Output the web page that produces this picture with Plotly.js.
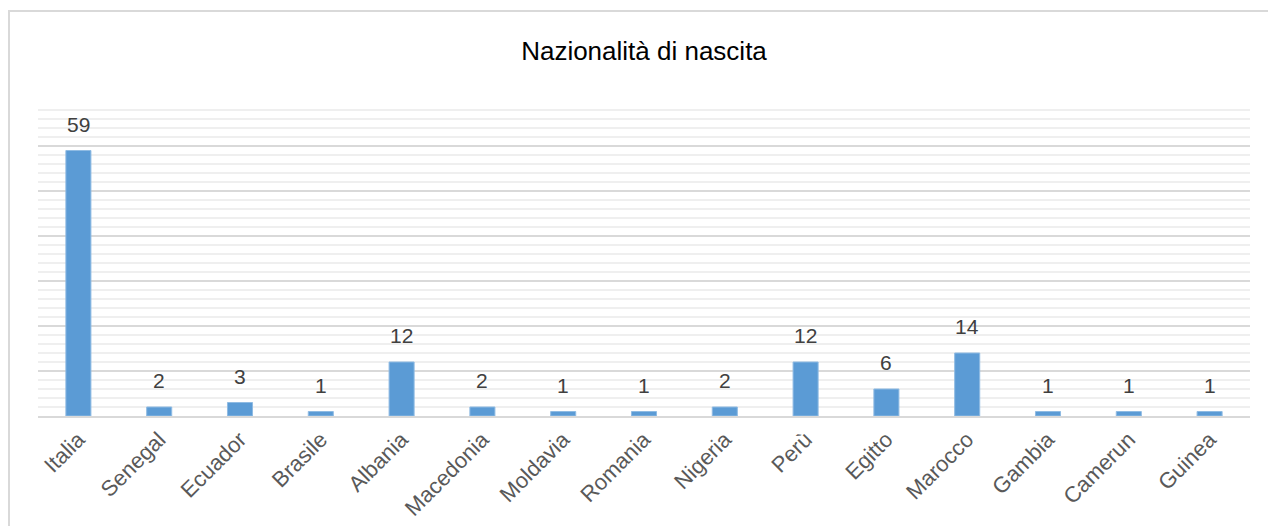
<!DOCTYPE html>
<html>
<head>
<meta charset="utf-8">
<script src="https://cdn.plot.ly/plotly-3.0.1.min.js"></script>
<style>
  html, body { margin: 0; padding: 0; overflow: hidden; background: #fff; }
  #chart { position: absolute; left: 0; top: 0; width: 1268px; height: 526px; }
  #frame { position: absolute; left: 8px; top: 10px; width: 2000px; height: 1000px;
           border-top: 2px solid #d9d9d9; border-left: 2px solid #d9d9d9; pointer-events: none; }
</style>
</head>
<body>
<div id="chart"></div>
<div id="frame"></div>
<script>
const categories = ["Italia", "Senegal", "Ecuador", "Brasile", "Albania", "Macedonia", "Moldavia",
                    "Romania", "Nigeria", "Perù", "Egitto", "Marocco", "Gambia", "Camerun", "Guinea"];
const counts = [59, 2, 3, 1, 12, 2, 1, 1, 2, 12, 6, 14, 1, 1, 1];
const chartTitle = "Nazionalità di nascita";

const FONT = '"Liberation Sans Narrow", "Arial Narrow", "Liberation Sans", Arial, sans-serif';

const trace = {
  type: 'bar',
  x: categories,
  y: counts,
  marker: { color: '#5b9bd5', line: { color: '#8fbbe3', width: 1 } },
  hoverinfo: 'x+y'
};

const annotations = categories.map((c, i) => ({
  x: c, y: counts[i], xref: 'x', yref: 'y',
  text: String(counts[i]), showarrow: false,
  yanchor: 'bottom', yshift: 13,
  font: { family: FONT, size: 21, color: '#404040' }
}));

const layout = {
  width: 1268, height: 526,
  margin: { l: 38, r: 18, t: 101, b: 110, pad: 0 },
  paper_bgcolor: 'rgba(0,0,0,0)',
  plot_bgcolor: 'rgba(0,0,0,0)',
  showlegend: false,
  bargap: 0.69,
  title: {
    text: chartTitle,
    x: 0.5, xref: 'paper', xanchor: 'center',
    y: 1 - 51 / 526, yref: 'container', yanchor: 'middle',
    font: { family: FONT, size: 26, color: '#000000' }
  },
  xaxis: {
    type: 'category',
    tickangle: -45,
    tickfont: { family: FONT, size: 22, color: '#595959' },
    showgrid: false,
    showline: true, linecolor: '#d9d9d9', linewidth: 2,
    ticks: '', ticklen: 0
  },
  yaxis: {
    range: [0, 70],
    dtick: 10,
    showticklabels: false,
    ticks: '',
    showgrid: true, gridcolor: '#d9d9d9', gridwidth: 2,
    zeroline: false,
    showline: false,
    minor: { dtick: 2, showgrid: true, gridcolor: '#efefef', gridwidth: 2, ticks: '' }
  },
  annotations: annotations
};

Plotly.newPlot('chart', [trace], layout, { displayModeBar: false, staticPlot: true });
</script>
</body>
</html>
